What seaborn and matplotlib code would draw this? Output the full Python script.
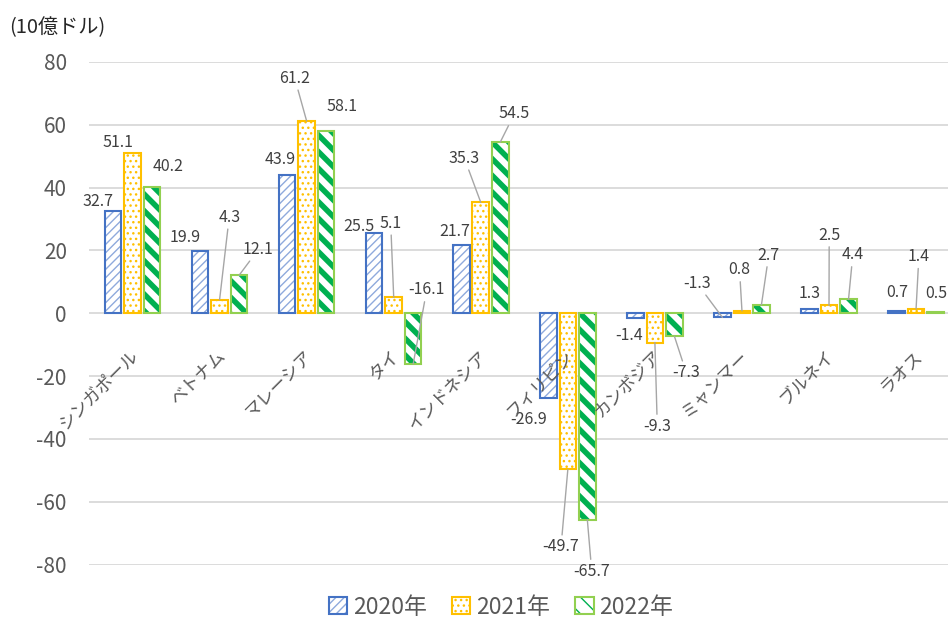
import matplotlib
matplotlib.use("Agg")
import matplotlib.pyplot as plt
from matplotlib.patches import Patch, Rectangle
from matplotlib.legend_handler import HandlerTuple
import seaborn as sns
import pandas as pd

# ---- data (10億ドル) ----
countries = ["シンガポール", "ベトナム", "マレーシア", "タイ", "インドネシア",
             "フィリピン", "カンボジア", "ミャンマー", "ブルネイ", "ラオス"]
years = ["2020年", "2021年", "2022年"]
v2020 = [32.7, 19.9, 43.9, 25.5, 21.7, -26.9, -1.4, -1.3, 1.3, 0.7]
v2021 = [51.1, 4.3, 61.2, 5.1, 35.3, -49.7, -9.3, 0.8, 2.5, 1.4]
v2022 = [40.2, 12.1, 58.1, -16.1, 54.5, -65.7, -7.3, 2.7, 4.4, 0.5]
yticks = [-80, -60, -40, -20, 0, 20, 40, 60, 80]

# label placement: (dx, dy) in pixels from the bar end, and whether a leader line is drawn
label_pos = {
    "2020年": [(-15, 9, False), (-15, 13.5, False), (-6.6, 15.5, False), (-15, 7, False),
              (-6.9, 13.5, False), (-20, -22, False), (-6.6, -18.3, False),
              (-25.4, 34.1, True), (0.5, 15.9, False), (0.2, 18.4, False)],
    "2021年": [(-14.5, 10.5, False), (9.6, 82.5, True), (-11.9, 42.8, True), (-3, 74, True),
              (-16.4, 44.2, True), (-6.8, -77.3, True), (2.4, -83.5, True),
              (-2.4, 40.8, True), (0.2, 70.4, True), (2.8, 52.2, True)],
    "2022年": [(16.3, 21, False), (19.4, 26, True), (15.6, 24.2, False), (13.5, 73.9, True),
              (14.1, 28.2, True), (4.4, -51.4, True), (11.9, -36.5, True),
              (7.3, 49.8, True), (4.3, 44.5, True), (0.5, 18.4, False)],
}

outline_colors = {"2020年": "#4472C4", "2021年": "#FFC000", "2022年": "#92D050"}
hatch_colors = {"2020年": "#8FAADC", "2021年": "#FFC000", "2022年": "#00B050"}
hatches = {"2020年": "////", "2021年": "...", "2022年": "\\\\"}
hatch_lw = {"2020年": 1.0, "2021年": 1.0, "2022年": 4.0}

df = pd.DataFrame({
    "country": countries * 3,
    "year": [years[0]] * 10 + [years[1]] * 10 + [years[2]] * 10,
    "value": v2020 + v2021 + v2022,
})

sns.set_theme(style="white")
plt.rcParams["font.family"] = ["Noto Sans CJK JP", "DejaVu Sans"]
plt.rcParams["axes.unicode_minus"] = False

fig = plt.figure(figsize=(9.48, 6.21), dpi=100)
ax = fig.add_axes([89 / 948, 56.4 / 621, 870.6 / 948, 502.6 / 621])

sns.barplot(data=df, x="country", y="value", hue="year", order=countries,
            hue_order=years, palette=hatch_colors, width=0.672, gap=0.15,
            legend=False, ax=ax, errorbar=None)

for year, container in zip(years, ax.containers):
    for patch, val, (dx, dy, leader) in zip(container.patches, df[df.year == year]["value"],
                                            label_pos[year]):
        patch.set_facecolor("white")
        patch.set_edgecolor(hatch_colors[year])
        patch.set_linewidth(0)
        patch.set_hatch(hatches[year])
        if hasattr(patch, "set_hatch_linewidth"):
            patch.set_hatch_linewidth(hatch_lw[year])
        x0, y0 = patch.get_xy()
        w, h = patch.get_width(), patch.get_height()
        ax.add_patch(Rectangle((x0, y0), w, h, fill=False,
                               edgecolor=outline_colors[year], linewidth=1.5, zorder=3))
        xc = x0 + w / 2
        kw = {}
        if leader:
            kw["arrowprops"] = dict(arrowstyle="-", color="#A6A6A6", lw=1.0,
                                    shrinkA=0, shrinkB=0)
        ax.annotate(f"{val:.1f}", xy=(xc, val), xytext=(dx, dy),
                    textcoords="offset pixels", ha="center", va="center",
                    fontsize=11.5, color="#404040", zorder=5, **kw)

ax.set_ylim(-80, 80)
ax.set_xlim(-0.5, len(countries) - 0.5)
ax.set_yticks(yticks)
ax.set_yticklabels([str(t) for t in yticks])
ax.yaxis.grid(True, color="#D9D9D9", linewidth=1.3)
ax.set_axisbelow(True)
for s in ax.spines.values():
    s.set_visible(False)
ax.tick_params(axis="y", length=0, pad=16, labelsize=15, labelcolor="#595959")
ax.tick_params(axis="x", length=0, labelbottom=False)
ax.set_xlabel("")
ax.set_ylabel("")

# category names sit just under the zero line
for i, name in enumerate(countries):
    ax.annotate(name, xy=(i, 0), xytext=(3, -40), textcoords="offset pixels",
                ha="right", va="center", rotation=45, rotation_mode="anchor",
                fontsize=12.5, color="#595959", zorder=6)

fig.text(9 / 948, 1 - 28 / 621, "(10億ドル)", ha="left", va="center",
         fontsize=14.5, color="#262626")

handles = []
for year in years:
    hp = Patch(facecolor="white", edgecolor=hatch_colors[year], linewidth=0,
               hatch=hatches[year])
    if hasattr(hp, "set_hatch_linewidth"):
        hp.set_hatch_linewidth(hatch_lw[year])
    op = Patch(fill=False, edgecolor=outline_colors[year], linewidth=1.5)
    handles.append((hp, op))

fig.legend(handles, years, handler_map={tuple: HandlerTuple(ndivide=1)},
           loc="center", bbox_to_anchor=(501 / 948, 1 - 607 / 621), ncol=3,
           frameon=False, fontsize=16.5, handlelength=0.8, handleheight=0.8,
           handletextpad=0.25, columnspacing=1.1, labelcolor="#595959",
           borderpad=0.2)

fig.savefig("out.png", dpi=100)
